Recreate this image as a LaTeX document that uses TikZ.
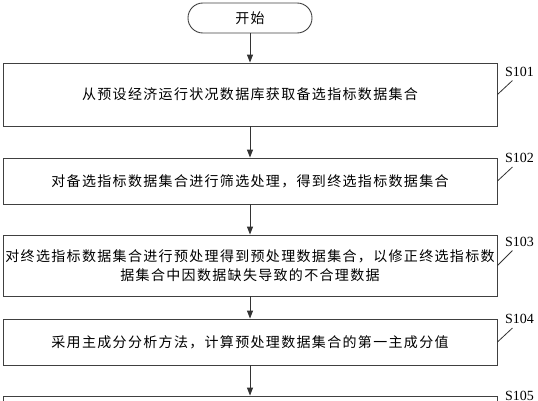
\documentclass[tikz,border=0pt]{standalone}
\usepackage{fontspec}
\setmainfont{Liberation Serif}
\newfontfamily\cjk[LetterSpace=9.5]{Noto Sans CJK SC}
\usetikzlibrary{arrows.meta}
\tikzset {>={Triangle[length=8bp,width=6bp]}}
\tikzset {stepbox/.style={draw=black!75, line width=0.9bp, minimum width=494bp, inner sep=0pt},
  startbox/.style={draw=black!75, line width=0.9bp, rounded corners=14.9bp, minimum width=124bp, minimum height=30bp, inner sep=0pt},
  steplabel/.style={font=\rmfamily\fontsize{14bp}{16bp}\selectfont, inner sep=0pt}}

\begin{document}
\begin{tikzpicture}[x=1bp,y=-1bp,font=\cjk\fontsize{14bp}{18.5bp}\selectfont]
\useasboundingbox (0,0) rectangle (538,400);
\clip (0,0) rectangle (538,400);
\node[startbox] (start) at (250,18) {开始};
\node[stepbox,minimum height=63bp] (b1) at (250,94.5) {从预设经济运行状况数据库获取备选指标数据集合};
\node[stepbox,minimum height=46bp] (b2) at (250,181) {对备选指标数据集合进行筛选处理，得到终选指标数据集合};
\node[stepbox,minimum height=61bp,text width=490bp,align=center] (b3) at (250,265.5) {对终选指标数据集合进行预处理得到预处理数据集合，以修正终选指标数\\据集合中因数据缺失导致的不合理数据};
\node[stepbox,minimum height=46bp] (b4) at (250,342) {采用主成分分析方法，计算预处理数据集合的第一主成分值};
\node[stepbox,minimum height=46bp] (b5) at (250,419) {};
\draw[->, black!80, line width=0.9bp] (start) -- (b1);
\draw[->, black!80, line width=0.9bp] (b1) -- (b2);
\draw[->, black!80, line width=0.9bp] (b2) -- (b3);
\draw[->, black!80, line width=0.9bp] (b3) -- (b4);
\draw[->, black!80, line width=0.9bp] (b4) -- (b5);
% step labels with leaders
\coordinate (e1) at ([shift={(15,-14)}]b1.east);
\coordinate (e2) at ([shift={(15,-14)}]b2.east);
\coordinate (e3) at ([shift={(15,-15)}]b3.east);
\coordinate (e4) at ([shift={(15,-14)}]b4.east);
\coordinate (e5) at ([shift={(15,-14)}]b5.east);
\draw[black!80, line width=0.8bp] (b1.east) -- (e1);
\draw[black!80, line width=0.8bp] (b2.east) -- (e2);
\draw[black!80, line width=0.8bp] (b3.east) -- (e3);
\draw[black!80, line width=0.8bp] (b4.east) -- (e4);
\draw[black!80, line width=0.8bp] (b5.east) -- (e5);
\node[steplabel] (s1) at ([shift={(7,-9)}]e1) {S101};
\node[steplabel] (s2) at ([shift={(7,-9)}]e2) {S102};
\node[steplabel] (s3) at ([shift={(7,-9)}]e3) {S103};
\node[steplabel] (s4) at ([shift={(7,-9)}]e4) {S104};
\node[steplabel] (s5) at ([shift={(7,-9)}]e5) {S105};
\end{tikzpicture}
\end{document}
